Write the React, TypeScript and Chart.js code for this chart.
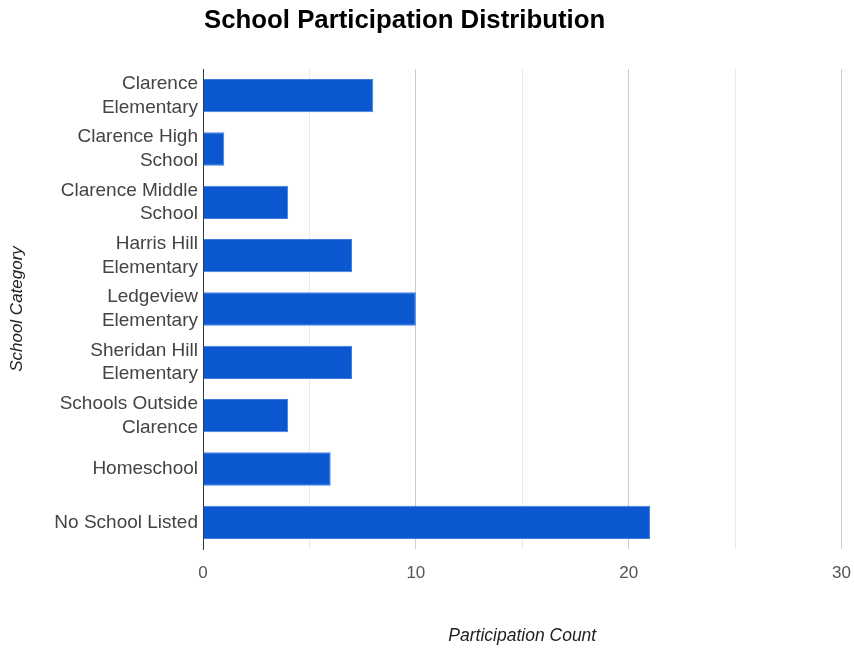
import React, { useEffect, useRef } from "react";
import { Chart, registerables } from "chart.js";

Chart.register(...registerables);

const TITLE = "School Participation Distribution";
const X_TITLE = "Participation Count";
const Y_TITLE = "School Category";

const categories: string[][] = [
  ["Clarence", "Elementary"],
  ["Clarence High", "School"],
  ["Clarence Middle", "School"],
  ["Harris Hill", "Elementary"],
  ["Ledgeview", "Elementary"],
  ["Sheridan Hill", "Elementary"],
  ["Schools Outside", "Clarence"],
  ["Homeschool"],
  ["No School Listed"],
];

const counts: number[] = [8, 1, 4, 7, 10, 7, 4, 6, 21];

const X_MIN = 0;
const X_MAX = 30;
const X_STEP = 5;
const X_LABEL_EVERY = 10;

const FONT = "'Liberation Sans', Arial, sans-serif";

const titlePlugin = {
  id: "leftTitle",
  afterDraw(chart: any) {
    const { ctx, chartArea } = chart;
    ctx.save();
    ctx.font = `bold 25.8px ${FONT}`;
    ctx.fillStyle = "#000000";
    ctx.textAlign = "left";
    ctx.textBaseline = "middle";
    ctx.fillText(TITLE, chartArea.left + 1, 21);
    ctx.restore();
  },
};

export default function App() {
  const ref = useRef<HTMLCanvasElement | null>(null);

  useEffect(() => {
    if (!ref.current) return;
    const chart = new Chart(ref.current, {
      type: "bar",
      data: {
        labels: categories,
        datasets: [
          {
            data: counts,
            backgroundColor: "#0b57d0",
            borderColor: "#3f7ee0",
            borderWidth: 1,
            categoryPercentage: 0.8,
            barPercentage: 0.78,
          },
        ],
      },
      plugins: [titlePlugin],
      options: {
        indexAxis: "y",
        animation: false,
        responsive: false,
        devicePixelRatio: 1,
        layout: { padding: { top: 69, right: 0, bottom: 0, left: 0 } },
        plugins: {
          legend: { display: false },
          title: { display: false },
          tooltip: { enabled: false },
        },
        scales: {
          x: {
            min: X_MIN,
            max: X_MAX,
            afterFit(scale: any) {
              scale.height = 103;
            },
            ticks: {
              stepSize: X_STEP,
              padding: 3,
              color: "#555555",
              font: { family: FONT, size: 17 },
              callback: (v: any) => (Number(v) % X_LABEL_EVERY === 0 ? String(v) : ""),
            },
            grid: {
              drawTicks: true,
              tickLength: 11,
              tickColor: "rgba(0,0,0,0)",
              color: (c: any) =>
                c.tick && Number(c.tick.value) % X_LABEL_EVERY === 0 ? "#cccccc" : "#ebebeb",
              lineWidth: 1,
            },
            border: { display: false },
            title: {
              display: true,
              text: X_TITLE,
              color: "#222222",
              font: { family: FONT, size: 17.5, style: "italic" },
              padding: { top: 0, bottom: 5 },
            },
          },
          y: {
            afterFit(scale: any) {
              scale.width = 203;
            },
            ticks: {
              padding: 5,
              color: "#444444",
              font: { family: FONT, size: 19, lineHeight: 1.25 },
              autoSkip: false,
            },
            grid: { display: false, drawTicks: false },
            border: { display: true, color: "#333333", width: 1 },
            title: {
              display: true,
              text: Y_TITLE,
              color: "#222222",
              font: { family: FONT, size: 17, style: "italic" },
              padding: { top: 7, bottom: 0 },
            },
          },
        },
      },
    } as any);
    return () => chart.destroy();
  }, []);

  return (
    <div style={{ position: "fixed", left: 0, top: 0, width: 854, height: 652, background: "#ffffff" }}>
      <canvas ref={ref} width={854} height={652} style={{ width: 854, height: 652, display: "block" }} />
    </div>
  );
}
